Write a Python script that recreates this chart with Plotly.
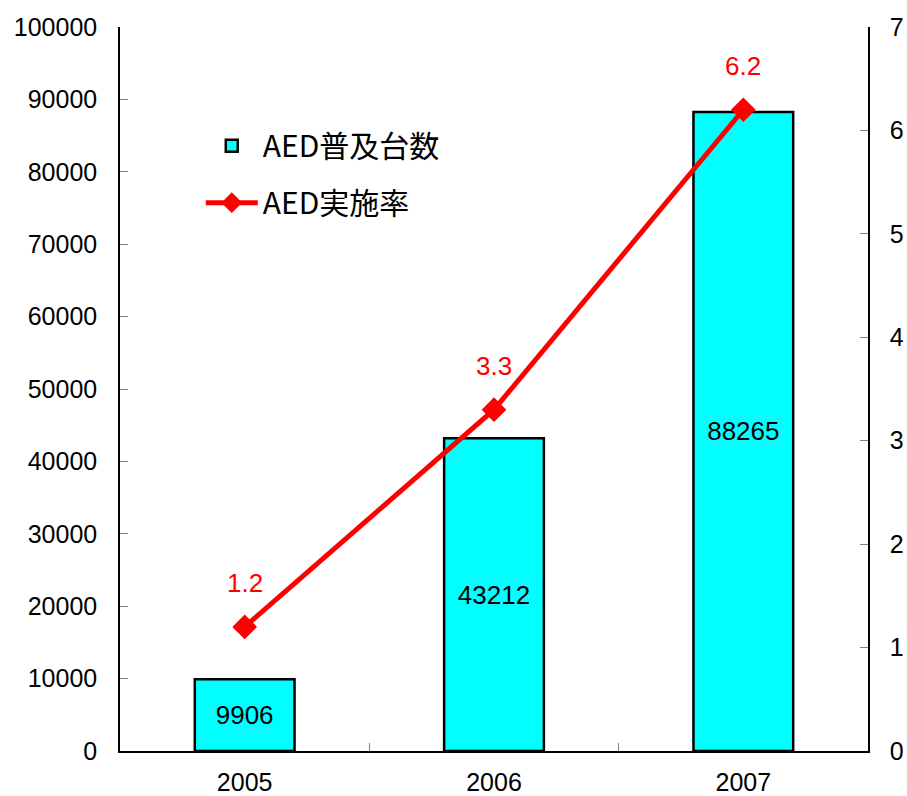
import plotly.graph_objects as go

# AED deployment counts and AED usage rate by year
years = ["2005", "2006", "2007"]
aed_units = [9906, 43212, 88265]
aed_rate = [1.2, 3.3, 6.2]

bar_name = "AED普及台数"
line_name = "AED実施率"

left_ticks = list(range(0, 100001, 10000))
right_ticks = list(range(0, 8))

base_font = "Liberation Sans, Arial, sans-serif"
jp_font = "Noto Sans CJK JP, Liberation Sans, sans-serif"

fig = go.Figure()

fig.add_trace(go.Bar(
    x=years,
    y=aed_units,
    name=bar_name,
    legendgroup="units",
    width=0.4,
    marker=dict(color="#00FFFF", line=dict(color="black", width=2.5)),
    text=[str(v) for v in aed_units],
    textposition="inside",
    insidetextanchor="middle",
    textangle=0,
    textfont=dict(family=base_font, size=26, color="black"),
    yaxis="y",
))

fig.add_trace(go.Scatter(
    x=years,
    y=aed_rate,
    name=line_name,
    legendgroup="rate",
    mode="lines+markers",
    line=dict(color="#FF0000", width=5),
    marker=dict(symbol="diamond", size=19, color="#FF0000"),
    yaxis="y2",
))

# value labels above the rate markers (category axis -> use category index)
for i, r in enumerate(aed_rate):
    fig.add_annotation(
        x=i, y=r, xref="x", yref="y2",
        text=f"{r:.1f}", showarrow=False, yshift=44,
        font=dict(family=base_font, size=26, color="#FF0000"),
    )

fig.update_layout(
    width=907,
    height=796,
    margin=dict(l=120, r=39, t=27, b=45, autoexpand=False),
    paper_bgcolor="white",
    plot_bgcolor="white",
    showlegend=True,
    legend=dict(
        x=0.108, y=0.872, xanchor="left", yanchor="top",
        font=dict(family=jp_font, size=30, color="black"),
        bgcolor="rgba(0,0,0,0)",
        itemwidth=52,
        tracegroupgap=15,
    ),
    xaxis=dict(
        type="category",
        automargin=False,
        showline=True, linecolor="black", linewidth=1.5,
        ticks="inside", tickson="boundaries", ticklen=8, tickcolor="#808080",
        tickfont=dict(family=base_font, size=25, color="black"),
        ticklabelstandoff=8,
        showgrid=False, zeroline=False,
        range=[-0.5, 2.5],
    ),
    yaxis=dict(
        range=[0, 100000],
        automargin=False,
        tickvals=left_ticks,
        ticktext=[str(v) for v in left_ticks],
        showline=True, linecolor="black", linewidth=1.5,
        ticks="inside", ticklen=8, tickcolor="#808080",
        tickfont=dict(family=base_font, size=25, color="black"),
        ticklabelstandoff=16,
        showgrid=False, zeroline=False,
    ),
    yaxis2=dict(
        range=[0, 7],
        automargin=False,
        tickvals=right_ticks,
        overlaying="y",
        side="right",
        showline=True, linecolor="black", linewidth=1.5,
        ticks="inside", ticklen=8, tickcolor="#808080",
        tickfont=dict(family=base_font, size=25, color="black"),
        ticklabelstandoff=15,
        showgrid=False, zeroline=False,
    ),
)

fig.write_html("out.html")
